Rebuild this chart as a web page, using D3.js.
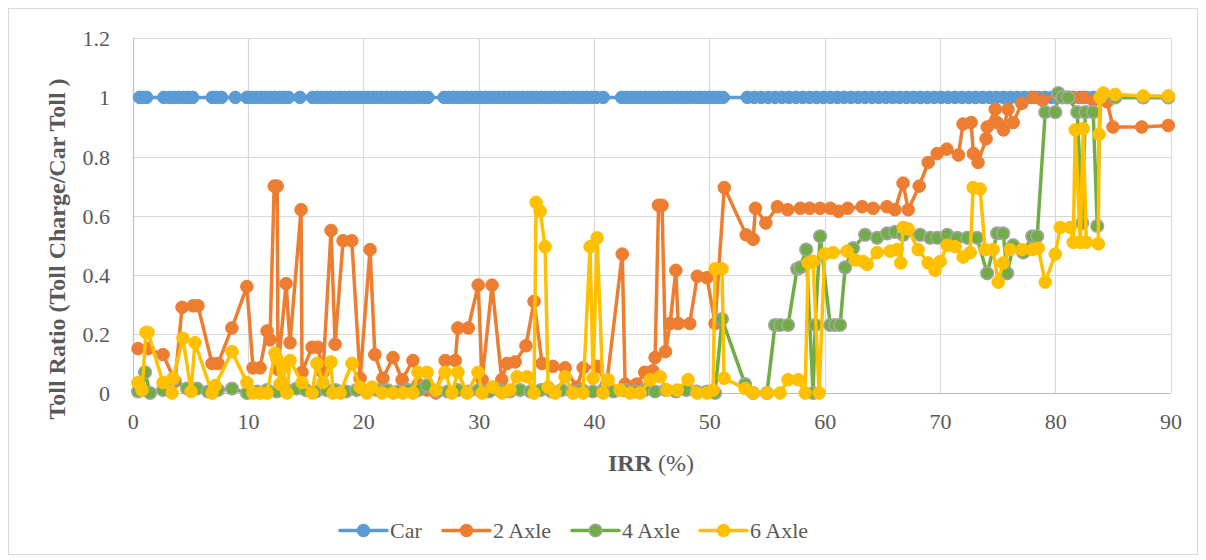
<!DOCTYPE html>
<html><head><meta charset="utf-8">
<script src="https://cdn.jsdelivr.net/npm/d3@7"></script>
<style>
html,body{margin:0;padding:0;background:#fff;}
svg{display:block;}
text{font-family:"Liberation Serif","Times New Roman",serif;}
</style></head>
<body>
<svg id="chart" width="1206" height="560"></svg>
<script>
// ---------- DATA ----------
const seriesNames = ["Car", "2 Axle", "4 Axle", "6 Axle"];
const xTicks = [0, 10, 20, 30, 40, 50, 60, 70, 80, 90];
const yTicks = [0, 0.2, 0.4, 0.6, 0.8, 1, 1.2];
const yTickLabels = ["0", "0.2", "0.4", "0.6", "0.8", "1", "1.2"];

const carIRR = [0.6,0.9,1.2, 2.7,3.2,3.6,4.0,4.4,4.8,5.2, 6.9,7.3,7.7, 8.9,
 9.9,10.3,10.7,11.1,11.5,11.9,12.3,12.7,13.1,13.5, 14.5,
 15.6,16.0,16.4,16.8,17.2,17.6,18.0,18.4,18.8,19.2,19.6,20.0,20.4,20.8,21.2,21.6,22.0,22.4,22.8,23.2,23.6,24.0,24.4,24.8,25.2,25.6,
 27.0,27.4,27.8,28.2,28.6,29.0,29.4,29.8,30.2,30.6,31.0,31.4,31.8,32.2,32.6,33.0,33.4,33.8,34.2,34.6,35.0,35.4,35.8,36.2,36.6,37.0,37.4,37.8,38.2,38.6,39.0,39.4,39.8,40.2,40.8,
 42.4,42.8,43.2,43.6,44.0,44.4,44.8,45.2,45.6,46.0,46.4,46.8,47.2,47.6,48.0,48.4,48.8,49.2,49.6,50.0,50.4,50.8,51.2,
 53.3,53.9,54.5,55.1,55.7,56.3,56.9,57.5,58.1,58.7,59.3,59.9,60.5,61.1,61.7,62.3,62.9,63.5,64.1,64.7,65.3,65.9,66.5,67.1,67.7,68.3,68.9,69.5,70.1,70.7,71.3,71.9,72.5,73.1,73.7,74.3,74.9,75.5,76.1,76.7,77.3,77.9,78.5,79.1,79.7,80.3,80.9,81.5,82.1,82.7,83.3,83.9,85.2,87.6,89.8];
const carToll = [1,1,1,1,1,1,1,1,1,1, 1,1,1,1,1,1,1,1,1,1, 1,1,1,1,1,1,1,1,1,1, 1,1,1,1,1,1,1,1,1,1,
 1,1,1,1,1,1,1,1,1,1, 1,1,1,1,1,1,1,1,1,1, 1,1,1,1,1,1,1,1,1,1, 1,1,1,1,1,1,1,1,1,1,
 1,1,1,1,1,1,1,1,1,1, 1,1,1,1,1,1,1,1,1,1, 1,1,1,1,1,1,1,1,1,1, 1,1,1,1,1,1,1,1,1,1,
 1,1,1,1,1,1,1,1,1,1, 1,1,1,1,1,1,1,1,1,1, 1,1,1,1,1,1,1,1,1,1, 1,1,1,1,1,1,1,1,1,1,
 1,1,1,1];

const ax2IRR = [0.46,1.33,2.63,3.67,4.28,5.23,5.66,6.88,7.4,8.6,
 9.9,10.43,11.04,11.65,11.9,12.27,12.53,12.6,13.3,13.64,
 14.6,14.68,15.55,16.07,16.5,17.2,17.55,18.24,19.0,19.72,
 20.58,21.0,21.7,22.57,23.36,24.3,24.75,25.5,26.3,27.1,
 27.97,28.2,29.1,29.96,30.3,31.16,32.0,32.46,33.16,34.1,
 34.8,35.5,36.45,37.5,38.5,39.06,40.27,41.1,42.45,42.7,
 43.7,44.4,45.1,45.3,45.6,45.9,46.2,46.6,47.1,47.3,
 48.3,48.96,49.8,50.5,51.3,53.2,53.8,54.0,54.9,55.9,
 56.8,57.9,58.7,59.6,60.5,61.2,62.0,63.25,64.2,65.4,
 66.1,66.8,67.25,68.2,68.98,69.76,70.6,71.6,72.0,72.7,
 72.9,73.3,74.0,74.1,74.8,74.96,75.5,75.9,76.35,77.1,
 78.1,78.9,80.2,81.55,82.4,83.3,84.5,85.0,87.5,89.8];
const ax2Toll = [0.15,0.15,0.13,0.04,0.29,0.295,0.295,0.10,0.10,0.22,
 0.36,0.085,0.085,0.21,0.18,0.70,0.70,0.08,0.37,0.17,
 0.62,0.07,0.155,0.155,0.07,0.55,0.165,0.515,0.515,0.05,
 0.485,0.13,0.05,0.12,0.045,0.11,0.03,0.01,0,0.11,
 0.11,0.22,0.22,0.365,0.045,0.365,0.045,0.10,0.105,0.16,
 0.31,0.10,0.09,0.085,0.02,0.085,0.09,0.03,0.47,0.03,
 0.03,0.07,0.075,0.12,0.635,0.635,0.14,0.235,0.415,0.235,
 0.235,0.395,0.39,0.235,0.695,0.535,0.52,0.625,0.575,0.63,
 0.62,0.625,0.625,0.625,0.625,0.615,0.625,0.63,0.625,0.63,
 0.62,0.71,0.62,0.70,0.78,0.81,0.825,0.805,0.91,0.915,
 0.81,0.78,0.86,0.90,0.96,0.915,0.89,0.96,0.915,0.98,
 1.0,0.99,1.01,1.0,1.0,0.99,0.985,0.90,0.90,0.905];

const ax4IRR = [0.46,0.81,1.07,1.5,2.63,3.5,4.71,5.58,6.53,7.4,
 8.61,9.91,10.8,11.65,12.5,13.4,14.2,15.0,15.9,16.8,
 17.6,18.5,19.4,20.3,21.2,22.1,23.0,23.9,24.8,25.52,
 26.4,27.3,28.2,29.1,30.0,30.9,31.8,32.7,33.6,34.5,
 35.4,36.3,37.2,38.1,39.0,39.9,40.8,41.7,42.6,43.5,
 44.4,45.3,46.2,47.1,48.0,48.9,49.8,50.5,51.1,53.1,
 53.8,55.0,55.7,56.14,56.83,57.61,57.88,58.4,59.0,59.18,
 59.61,60.48,60.91,61.34,61.78,62.47,63.51,64.55,65.42,66.11,
 66.81,68.28,69.15,69.76,70.63,71.49,72.36,73.22,74.09,74.96,
 75.48,75.83,76.35,77.22,78.0,78.43,79.13,80.0,80.26,80.61,
 81.13,81.91,82.34,82.6,83.29,83.64,83.9,85.2,87.63,89.8];
const ax4Toll = [0.005,0.01,0.07,0,0.01,0.045,0.015,0.015,0.005,0.01,
 0.015,0,0.005,0.01,0.005,0.01,0.015,0.01,0.005,0.01,
 0.01,0.005,0.01,0.005,0.01,0.01,0.005,0.01,0.01,0.025,
 0.005,0.005,0.01,0.005,0.01,0.005,0.01,0.005,0.01,0.005,
 0.01,0.005,0.01,0.005,0.01,0.005,0.01,0.005,0.01,0.005,
 0.01,0.005,0.01,0.005,0.01,0.005,0.005,0,0.25,0.03,
 0,0,0.23,0.23,0.23,0.42,0.425,0.485,0,0.23,
 0.53,0.23,0.23,0.23,0.425,0.49,0.535,0.525,0.54,0.545,
 0.535,0.535,0.525,0.525,0.535,0.525,0.525,0.525,0.405,0.54,
 0.54,0.405,0.50,0.475,0.53,0.53,0.95,0.95,1.015,1.0,
 1.0,0.95,0.575,0.95,0.95,0.565,1.0,1.0,1.0,1.0];

const ax6IRR = [0.46,0.81,1.15,1.33,2.63,3.41,3.5,4.36,5.06,5.4,
 6.88,7.15,8.61,9.91,10.43,11.04,11.65,12.34,12.51,12.77,
 13.03,13.38,13.64,14.68,15.55,15.98,16.5,17.2,17.37,17.98,
 19.02,19.71,20.32,20.75,21.62,22.57,23.44,24.31,24.74,25.52,
 26.3,27.08,27.69,28.2,28.99,29.94,30.29,31.24,32.02,32.71,
 33.33,34.19,34.8,34.98,35.33,35.76,36.02,36.62,37.49,38.19,
 39.05,39.66,39.92,40.27,40.79,41.22,42.27,43.13,44.0,44.87,
 45.74,46.34,47.21,48.16,48.94,49.81,50.33,50.5,51.1,51.28,
 53.1,53.8,55.0,56.14,56.83,57.7,58.31,58.57,59.0,59.52,
 60.0,60.74,61.95,62.65,63.34,63.69,64.55,65.68,66.29,66.6,
 66.81,67.24,68.11,68.98,69.58,70.02,70.63,71.32,72.01,72.62,
 72.88,73.48,73.92,74.61,75.05,75.48,76.09,77.13,78.0,78.52,
 79.13,80.0,80.43,81.3,81.56,81.73,82.17,82.43,82.69,83.73,
 83.8,83.9,84.16,85.2,87.63,89.8];
const ax6Toll = [0.035,0.01,0.205,0.205,0.035,0,0.05,0.185,0.005,0.17,
 0,0.025,0.14,0.035,0,0,0,0.135,0.115,0.03,
 0.085,0,0.11,0.035,0,0.10,0.035,0.105,0,0,
 0.10,0.02,0,0.02,0,0,0,0,0.07,0.07,
 0.01,0.07,0,0.07,0,0.07,0,0.02,0,0.01,
 0.055,0.055,0,0.645,0.615,0.495,0.02,0,0.055,0,
 0,0.495,0.05,0.525,0,0.045,0.01,0,0,0.045,
 0.055,0.01,0.01,0.045,0,0,0.01,0.42,0.42,0.05,
 0.015,0,0,0,0.045,0.045,0,0.44,0.445,0,
 0.47,0.475,0.48,0.45,0.445,0.435,0.475,0.48,0.485,0.44,
 0.56,0.555,0.485,0.44,0.415,0.445,0.50,0.495,0.46,0.475,
 0.695,0.69,0.485,0.485,0.375,0.44,0.485,0.485,0.485,0.49,
 0.375,0.47,0.56,0.56,0.51,0.89,0.51,0.895,0.51,0.505,
 0.875,1.0,1.015,1.01,1.005,1.005];

// ---------- BUILD ----------
const seriesData = [
  {name: seriesNames[0], x: carIRR, y: carToll, color: "#5B9BD5", stroke: "#5B9BD5", sw: 1},
  {name: seriesNames[1], x: ax2IRR, y: ax2Toll, color: "#ED7D31", stroke: "#ED7D31", sw: 1},
  {name: seriesNames[2], x: ax4IRR, y: ax4Toll, color: "#70AD47", stroke: "#A5A5A5", sw: 1.6},
  {name: seriesNames[3], x: ax6IRR, y: ax6Toll, color: "#FFC000", stroke: "#FFC000", sw: 1}
].map(s => {
  const n = Math.min(s.x.length, s.y.length);
  s.points = d3.range(n).map(i => ({x: s.x[i], y: s.y[i]}));
  return s;
});

const svg = d3.select("#chart");
const plot = {left: 132.7, right: 1170.6, top: 38.3, bottom: 393};

svg.append("rect").attr("x", 8.5).attr("y", 8.5).attr("width", 1189).attr("height", 546)
  .attr("fill", "#fff").attr("stroke", "#D9D9D9").attr("stroke-width", 1);

const x = d3.scaleLinear().domain([0, 90]).range([plot.left, plot.right]);
const y = d3.scaleLinear().domain([0, 1.2]).range([plot.bottom, plot.top]);

// grid
const grid = svg.append("g");
grid.selectAll("line.h").data(yTicks).join("line")
  .attr("x1", plot.left).attr("x2", plot.right)
  .attr("y1", d => Math.round(y(d)) + 0.5).attr("y2", d => Math.round(y(d)) + 0.5)
  .attr("stroke", "#D9D9D9").attr("stroke-width", 1.2);
grid.selectAll("line.v").data(xTicks).join("line")
  .attr("y1", plot.top).attr("y2", plot.bottom)
  .attr("x1", d => Math.round(x(d)) + 0.5).attr("x2", d => Math.round(x(d)) + 0.5)
  .attr("stroke", d => d === 0 ? "#BFBFBF" : "#D9D9D9").attr("stroke-width", 1.2);
grid.append("line").attr("x1", plot.left).attr("x2", plot.right)
  .attr("y1", Math.round(y(0)) + 0.5).attr("y2", Math.round(y(0)) + 0.5)
  .attr("stroke", "#BFBFBF").attr("stroke-width", 1.2);

// axes with d3 axis generator (labels only)
const xAxis = d3.axisBottom(x).tickValues(xTicks).tickSize(0).tickPadding(0).tickFormat(d3.format("d"));
const gx = svg.append("g").attr("transform", `translate(0,${plot.bottom})`).call(xAxis);
gx.select(".domain").remove();
gx.selectAll("text").attr("y", 0).attr("dy", 36).attr("font-size", 22)
  .attr("fill", "#595959").attr("font-family", "Liberation Serif, Times New Roman, serif");

const yAxis = d3.axisLeft(y).tickValues(yTicks).tickSize(0).tickPadding(0)
  .tickFormat((d, i) => yTickLabels[i]);
const gy = svg.append("g").attr("transform", `translate(110,0)`).call(yAxis);
gy.select(".domain").remove();
gy.selectAll("text").attr("x", 0).attr("dy", "0.34em").attr("font-size", 22)
  .attr("fill", "#595959").attr("font-family", "Liberation Serif, Times New Roman, serif");

// titles
svg.append("text")
  .attr("transform", "translate(65,249) rotate(-90)")
  .attr("text-anchor", "middle")
  .attr("font-size", 24).attr("font-weight", "bold").attr("fill", "#595959")
  .text("Toll Ratio (Toll Charge/Car Toll )");

const xt = svg.append("text").attr("x", 651).attr("y", 471).attr("text-anchor", "middle")
  .attr("font-size", 24).attr("fill", "#595959");
xt.append("tspan").attr("font-weight", "bold").text("IRR");
xt.append("tspan").text(" (%)");

// series
const line = d3.line().x(d => x(d.x)).y(d => y(d.y));
const gs = svg.append("g");
seriesData.forEach(s => {
  const g = gs.append("g");
  g.append("path").datum(s.points).attr("d", line)
    .attr("fill", "none").attr("stroke", s.color).attr("stroke-width", 3.5)
    .attr("stroke-linejoin", "round").attr("stroke-linecap", "round");
  g.selectAll("circle").data(s.points).join("circle")
    .attr("cx", d => x(d.x)).attr("cy", d => y(d.y)).attr("r", 6.3)
    .attr("fill", s.color).attr("stroke", s.stroke).attr("stroke-width", s.sw);
});

// legend
const legendX = [340, 443, 572, 700];
const lg = svg.append("g");
seriesData.forEach((s, i) => {
  const g = lg.append("g").attr("transform", `translate(${legendX[i]},530.5)`);
  g.append("line").attr("x1", 0).attr("x2", 47).attr("y1", 0).attr("y2", 0)
    .attr("stroke", s.color).attr("stroke-width", 3.5).attr("stroke-linecap", "round");
  g.append("circle").attr("cx", 23.5).attr("cy", 0).attr("r", 6.3)
    .attr("fill", s.color).attr("stroke", s.stroke).attr("stroke-width", s.sw);
  g.append("text").attr("x", 50).attr("y", 0).attr("dy", "0.35em")
    .attr("font-size", 22).attr("fill", "#595959").text(s.name);
});
</script>
</body></html>
